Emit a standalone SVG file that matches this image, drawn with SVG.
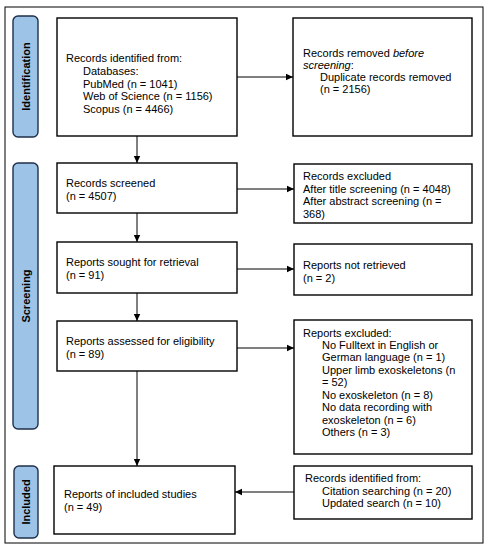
<svg xmlns="http://www.w3.org/2000/svg" width="491" height="550" viewBox="0 0 491 550">
<style>
.box{fill:#fff;stroke:#000;stroke-width:1.4}
.lab{fill:#9DC3E6;stroke:#1f2f4a;stroke-width:1.4}
.t{font-family:"Liberation Sans",Arial,sans-serif;font-size:11px;fill:#000}
.lt{font-family:"Liberation Sans",Arial,sans-serif;font-size:11px;font-weight:bold;fill:#000}
.c{stroke:#000;stroke-width:1;fill:none;marker-end:url(#ah)}
</style>
<defs>
<marker id="ah" markerWidth="8" markerHeight="8" refX="7" refY="4" orient="auto" markerUnits="userSpaceOnUse">
<path d="M0,0.8 L7,4 L0,7.2 Z" fill="#000"/>
</marker>
</defs>
<rect x="0" y="0" width="491" height="550" fill="#fff"/>
<rect id="frame" x="5" y="7" width="478" height="536" fill="none" stroke="#000" stroke-width="1"/>

<g id="label-identification">
<rect class="lab" x="13" y="16" width="25" height="121" rx="5"/>
<text class="lt" transform="translate(29.5,76.5) rotate(-90)" text-anchor="middle">Identification</text>
</g>
<g id="label-screening">
<rect class="lab" x="13" y="163" width="25" height="266" rx="5"/>
<text class="lt" transform="translate(29.5,296) rotate(-90)" text-anchor="middle">Screening</text>
</g>
<g id="label-included">
<rect class="lab" x="14" y="466" width="24" height="72" rx="5"/>
<text class="lt" transform="translate(29.5,502) rotate(-90)" text-anchor="middle">Included</text>
</g>

<g id="n1">
<rect class="box" x="57" y="18" width="180" height="118"/>
<text class="t" x="66" y="62">Records identified from:</text>
<text class="t" x="83" y="75">Databases:</text>
<text class="t" x="83" y="87.5">PubMed (n = 1041)</text>
<text class="t" x="83" y="100">Web of Science (n = 1156)</text>
<text class="t" x="83" y="112.5">Scopus (n = 4466)</text>
</g>
<g id="n2">
<rect class="box" x="293" y="18" width="179" height="118"/>
<text class="t" x="303" y="57">Records removed <tspan font-style="italic">before</tspan></text>
<text class="t" x="303" y="69"><tspan font-style="italic">screening</tspan>:</text>
<text class="t" x="320" y="81">Duplicate records removed</text>
<text class="t" x="320" y="93">(n = 2156)</text>
</g>
<g id="n3">
<rect class="box" x="57" y="163" width="180" height="50"/>
<text class="t" x="66" y="187">Records screened</text>
<text class="t" x="66" y="200">(n = 4507)</text>
</g>
<g id="n4">
<rect class="box" x="294" y="164" width="178" height="59"/>
<text class="t" x="303" y="180">Records excluded</text>
<text class="t" x="303" y="192.5">After title screening (n = 4048)</text>
<text class="t" x="303" y="205">After abstract screening (n =</text>
<text class="t" x="303" y="217.5">368)</text>
</g>
<g id="n5">
<rect class="box" x="57" y="242" width="180" height="51"/>
<text class="t" x="66" y="266">Reports sought for retrieval</text>
<text class="t" x="66" y="279">(n = 91)</text>
</g>
<g id="n6">
<rect class="box" x="294" y="244" width="178" height="51"/>
<text class="t" x="303" y="269">Reports not retrieved</text>
<text class="t" x="303" y="281.5">(n = 2)</text>
</g>
<g id="n7">
<rect class="box" x="57" y="321" width="180" height="50"/>
<text class="t" x="66" y="345">Reports assessed for eligibility</text>
<text class="t" x="66" y="357.5">(n = 89)</text>
</g>
<g id="n8">
<rect class="box" x="294" y="320" width="178" height="134"/>
<text class="t" x="303" y="337">Reports excluded:</text>
<text class="t" x="322" y="348.5">No Fulltext in English or</text>
<text class="t" x="322" y="361">German language (n = 1)</text>
<text class="t" x="322" y="373.5">Upper limb exoskeletons (n</text>
<text class="t" x="322" y="386">= 52)</text>
<text class="t" x="322" y="398.5">No exoskeleton (n = 8)</text>
<text class="t" x="322" y="411">No data recording with</text>
<text class="t" x="322" y="423.5">exoskeleton (n = 6)</text>
<text class="t" x="322" y="436">Others (n = 3)</text>
</g>
<g id="n9">
<rect class="box" x="54" y="466" width="181" height="68"/>
<text class="t" x="64" y="498">Reports of included studies</text>
<text class="t" x="64" y="511">(n = 49)</text>
</g>
<g id="n10">
<rect class="box" x="294" y="466" width="178" height="53"/>
<text class="t" x="305" y="482">Records identified from:</text>
<text class="t" x="322" y="494.5">Citation searching (n = 20)</text>
<text class="t" x="322" y="507">Updated search (n = 10)</text>
</g>

<g id="connectors">
<path class="c" d="M137,136 V163"/>
<path class="c" d="M237,77 H293"/>
<path class="c" d="M137,213 V242"/>
<path class="c" d="M237,189 H294"/>
<path class="c" d="M137,293 V321"/>
<path class="c" d="M237,269 H294"/>
<path class="c" d="M137,371 V466"/>
<path class="c" d="M237,348 H294"/>
<path class="c" d="M294,492 H235"/>
</g>
</svg>
